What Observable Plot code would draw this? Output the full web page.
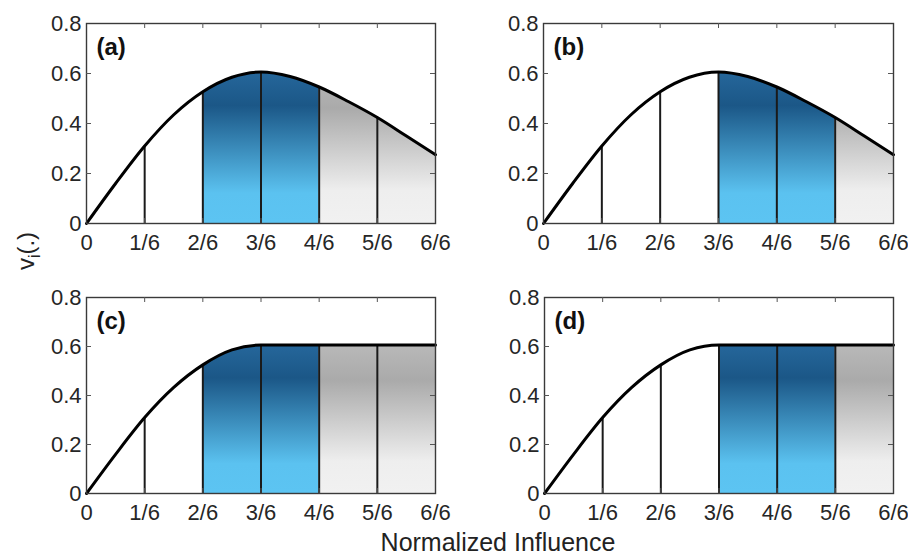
<!DOCTYPE html>
<html><head><meta charset="utf-8">
<script src="https://cdn.jsdelivr.net/npm/d3@7"></script>
<script src="https://cdn.jsdelivr.net/npm/@observablehq/plot@0.6"></script>
<style>
body{margin:0;background:#fff;font-family:"Liberation Sans",Arial,sans-serif;}
#root{position:relative;width:909px;height:558px;overflow:hidden;background:#fff;}
.panel{position:absolute;}
#ytitle{position:absolute;left:-14px;top:234px;width:80px;height:34px;line-height:34px;text-align:center;font-size:24px;color:#222;transform:rotate(-90deg);transform-origin:center;}
#ytitle sub{font-size:16px;}
#xtitle{position:absolute;left:298px;width:400px;top:527px;line-height:30px;text-align:center;font-size:25px;color:#222;}
</style></head><body><div id="root"></div>
<script>
// ---- data ----
const xTickValues = [0, 1/6, 2/6, 3/6, 4/6, 5/6, 6/6];
const xTickLabels = ["0", "1/6", "2/6", "3/6", "4/6", "5/6", "6/6"];
const yTickValues = [0, 0.2, 0.4, 0.6, 0.8];
const yTickLabels = ["0", "0.2", "0.4", "0.6", "0.8"];
const sampleX = [0, 1/12, 2/12, 3/12, 4/12, 5/12, 6/12, 7/12, 8/12, 9/12, 10/12, 11/12, 12/12];
const bellCurve =    [0, 0.16, 0.31, 0.435, 0.527, 0.585, 0.606, 0.588, 0.546, 0.488, 0.424, 0.35, 0.275];
const plateauCurve = [0, 0.16, 0.31, 0.433, 0.525, 0.586, 0.606, 0.606, 0.606, 0.606, 0.606, 0.606, 0.606];
const panelLabels = ["(a)", "(b)", "(c)", "(d)"];
const panelCurves = ["bell", "bell", "plateau", "plateau"];
const blueFrom = [2, 3, 2, 3];   // in sixths
const blueTo   = [4, 5, 4, 5];
const grayTo   = [6, 6, 6, 6];
const yTitleHTML = "v<sub>i</sub>(.)";
const xTitle = "Normalized Influence";

// ---- styling / layout ----
const blueStops = [[0, "#5cc4f2"], [0.12, "#5bc2f0"], [0.47, "#1b5787"], [0.6, "#25669a"]];
const grayStops = [[0, "#f1f1f1"], [0.13, "#eeeeee"], [0.46, "#aaaaaa"], [0.6, "#b8b8b8"]];
const layout = [
  {left: 0,   top: 0,   ml: 86, mr: 19, mt: 23, mb: 37},
  {left: 454, top: 0,   ml: 89, mr: 15, mt: 23, mb: 37},
  {left: 0,   top: 270, ml: 86, mr: 19, mt: 27, mb: 37},
  {left: 454, top: 270, ml: 90, mr: 15, mt: 27, mb: 37}
];
const W = 454, H = 260;
const FONT = "'Liberation Sans', Arial, sans-serif";
const root = document.getElementById("root");

function makePanel(i) {
  const L = layout[i];
  const vals = panelCurves[i] === "bell" ? bellCurve : plateauCurve;
  const pts = sampleX.map((x, k) => ({x, v: vals[k]}));
  const blue = pts.slice(blueFrom[i] * 2, blueTo[i] * 2 + 1);
  const gray = pts.slice(blueTo[i] * 2, grayTo[i] * 2 + 1);
  const dividers = pts.filter((d, k) => k % 2 === 0 && k > 0 && k < pts.length - 1);
  const fw = W - L.ml - L.mr, fh = H - L.mt - L.mb;
  const gid = "grad" + i;
  const svg = Plot.plot({
    width: W, height: H,
    marginLeft: L.ml, marginRight: L.mr, marginTop: L.mt, marginBottom: L.mb,
    x: {domain: [0, 1]},
    y: {domain: [0, 0.8]},
    style: {fontFamily: FONT, fontSize: "22px", color: "#262626", background: "transparent"},
    marks: [
      Plot.areaY(blue, {x: "x", y: "v", fill: `url(#${gid}b)`, curve: "monotone-x"}),
      Plot.areaY(gray, {x: "x", y: "v", fill: `url(#${gid}g)`, curve: "monotone-x"}),
      Plot.ruleX(dividers, {x: "x", y1: 0, y2: "v", stroke: "#1a1a1a", strokeWidth: 2}),
      Plot.line(pts, {x: "x", y: "v", stroke: "#000", strokeWidth: 3, curve: "monotone-x"}),
      Plot.frame({stroke: "#3a3a3a", strokeWidth: 1.4}),
      Plot.ruleX(xTickValues.slice(1, -1), {x: d => d, insetTop: fh - 5, stroke: "#555"}),
      Plot.ruleX(xTickValues.slice(1, -1), {x: d => d, insetBottom: fh - 5, stroke: "#555"}),
      Plot.ruleY(yTickValues.slice(1, -1), {y: d => d, insetRight: fw - 5, stroke: "#555"}),
      Plot.ruleY(yTickValues.slice(1, -1), {y: d => d, insetLeft: fw - 5, stroke: "#555"}),
      Plot.axisX(xTickValues, {tickSize: 0, tickPadding: 11, label: null, fontSize: 22,
        tickFormat: d => xTickLabels[xTickValues.indexOf(d)]}),
      Plot.axisY(yTickValues, {tickSize: 0, tickPadding: 5, label: null, fontSize: 22,
        tickFormat: d => yTickLabels[yTickValues.indexOf(d)]}),
      Plot.text([panelLabels[i]], {frameAnchor: "top-left", text: d => d, dx: 10, dy: 14,
        lineAnchor: "top", textAnchor: "start", fontWeight: "bold", fontSize: 24, fill: "#111"})
    ]
  });
  // gradients in data space
  const y = svg.scale("y");
  const ns = "http://www.w3.org/2000/svg";
  const defs = document.createElementNS(ns, "defs");
  function grad(id, stops) {
    const lg = document.createElementNS(ns, "linearGradient");
    lg.setAttribute("id", id);
    lg.setAttribute("gradientUnits", "userSpaceOnUse");
    lg.setAttribute("x1", 0); lg.setAttribute("x2", 0);
    lg.setAttribute("y1", y.apply(0)); lg.setAttribute("y2", y.apply(0.6));
    for (const [v, c] of stops) {
      const s = document.createElementNS(ns, "stop");
      s.setAttribute("offset", v / 0.6);
      s.setAttribute("stop-color", c);
      lg.appendChild(s);
    }
    defs.appendChild(lg);
  }
  grad(gid + "b", blueStops);
  grad(gid + "g", grayStops);
  svg.insertBefore(defs, svg.firstChild);
  const div = document.createElement("div");
  div.className = "panel";
  div.style.left = L.left + "px";
  div.style.top = L.top + "px";
  div.appendChild(svg);
  root.appendChild(div);
}
for (let i = 0; i < 4; i++) makePanel(i);

const yt = document.createElement("div");
yt.id = "ytitle"; yt.innerHTML = yTitleHTML; root.appendChild(yt);
const xt = document.createElement("div");
xt.id = "xtitle"; xt.textContent = xTitle; root.appendChild(xt);
</script></body></html>
